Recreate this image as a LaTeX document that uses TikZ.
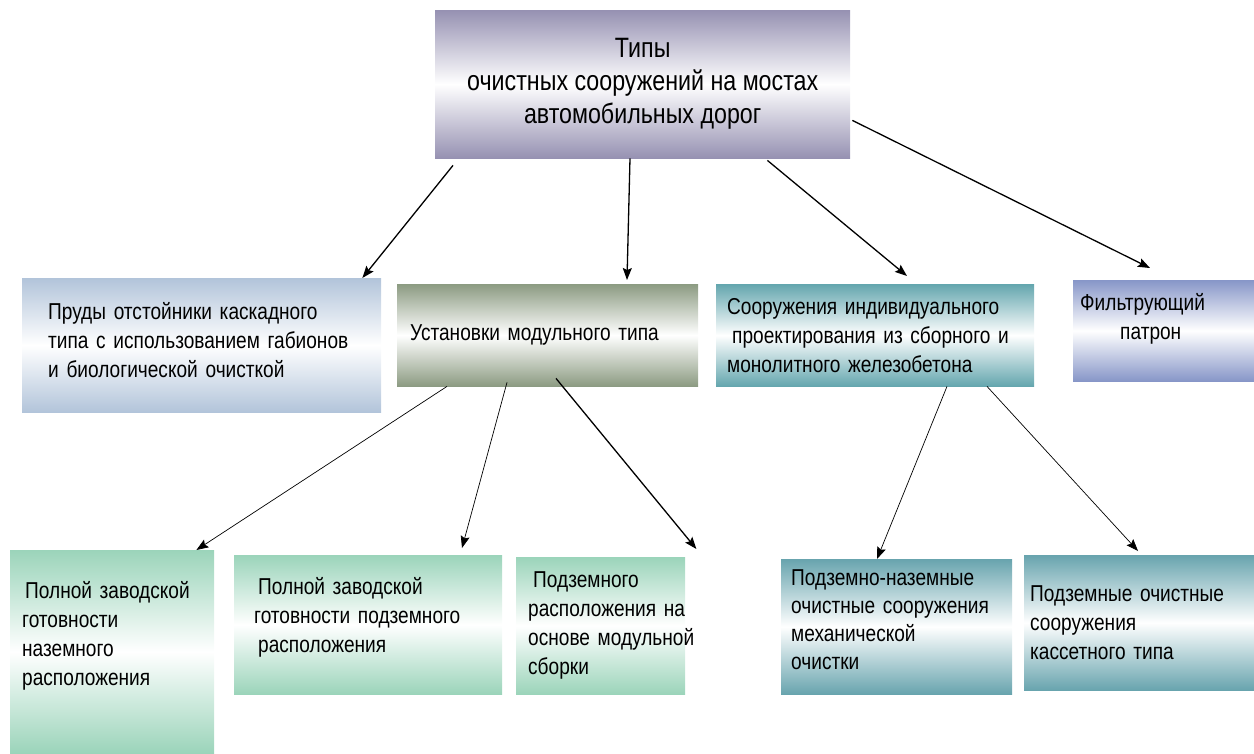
\documentclass[tikz,border=0pt]{standalone}
\usepackage{fontspec}
\setmainfont{Liberation Sans}[FakeStretch=0.83]
\usepackage{tikz}
\usetikzlibrary{positioning,arrows.meta}

\definecolor{titlec}{RGB}{150,145,178}
\definecolor{pondc}{RGB}{178,196,218}
\definecolor{modc}{RGB}{140,155,130}
\definecolor{indc}{RGB}{100,166,174}
\definecolor{filtc}{RGB}{135,150,200}
\definecolor{greenc}{RGB}{155,212,186}
\definecolor{tealc}{RGB}{104,164,174}

\tikzset{
  box/.style={anchor=north west, inner ysep=4pt, align=left,
    font=\fontsize{23}{29}\selectfont},
  grad/.style={top color=#1, bottom color=#1, middle color=white},
  link/.style={-{Stealth[length=12pt,width=9pt,inset=2pt]}, line width=1.3pt},
  thin link/.style={link, line width=0.7pt}
}

\begin{document}
\begin{tikzpicture}[x=1pt,y=-1pt]
  \useasboundingbox (0,0) rectangle (1254,753);
  \node[box, grad=titlec, align=center, minimum width=415pt, minimum height=148pt,
    font=\fontsize{28}{33}\selectfont] (types) at (435,10)
    {Типы\\ очистных сооружений на мостах\\ автомобильных дорог\\[-26pt] \mbox{}};

  \node[box, grad=pondc, text width=307pt, inner xsep=26pt, minimum height=134pt] (ponds) at (22,278)
    {Пруды~отстойники~каскадного\\ типа~с~использованием~габионов\\ и~биологической~очисткой\\[-19pt] \mbox{}};
  \node[box, grad=modc, text width=275pt, inner xsep=13pt, minimum height=102pt] (modul) at (397,284)
    {Установки модульного типа};
  \node[box, grad=indc, text width=296pt, inner xsep=11pt, minimum height=102pt] (indiv) at (716,284)
    {Сооружения~индивидуального\\ \hspace*{5pt}проектирования~из~сборного~и\\ монолитного~железобетона};
  \node[box, grad=filtc, text width=167pt, inner xsep=7pt, minimum height=101pt] (filter) at (1073,280)
    {Фильтрующий\\ \hspace*{40pt}патрон\\ \mbox{}};

  \node[box, grad=greenc, text width=180pt, inner xsep=12pt, minimum height=203pt] (mod1) at (10,550)
    {\hspace*{3pt}Полной~заводской\\ готовности\\ наземного\\ расположения\\[8pt] \mbox{}};
  \node[box, grad=greenc, text width=228pt, inner xsep=20pt, minimum height=139pt] (mod2) at (234,555)
    {\hspace*{4pt}Полной~заводской\\ готовности~подземного\\ \hspace*{4pt}расположения\\[-10pt] \mbox{}};
  \node[box, grad=greenc, text width=145pt, inner xsep=12pt, minimum height=137pt] (mod3) at (516,557)
    {\hspace*{5pt}Подземного\\ расположения~на\\ основе~модульной\\ сборки};
  \node[box, grad=tealc, text width=211pt, inner xsep=10pt, minimum height=135pt,
    font=\fontsize{23}{28}\selectfont] (ind1) at (781,559)
    {Подземно-наземные\\ очистные~сооружения\\ механической\\ очистки\\[-14pt] \mbox{}};
  \node[box, grad=tealc, text width=218pt, inner xsep=6pt, minimum height=135pt] (ind2) at (1024,555)
    {Подземные~очистные\\ сооружения\\ кассетного~типа};

  \draw[link] ([xshift=18pt,yshift=-7pt]types.south west) -- ([xshift=-19pt]ponds.north east);
  \draw[link] ([xshift=195pt]types.south west) -- ([xshift=230pt,yshift=4pt]modul.north west);
  \draw[link] ([xshift=-83pt,yshift=-2pt]types.south east) -- ([xshift=191pt,yshift=8pt]indiv.north west);
  \draw[link] ([xshift=2pt,yshift=38pt]types.south east) -- ([xshift=77pt,yshift=12pt]filter.north west);

  \draw[thin link] ([xshift=50pt]modul.south west) -- ([xshift=-18pt]mod1.north east);
  \draw[thin link] ([xshift=110pt,yshift=4pt]modul.south west) -- ([xshift=228pt,yshift=7pt]mod2.north west);
  \draw[link] ([xshift=159pt,yshift=8pt]modul.south west) -- ([xshift=11pt,yshift=8pt]mod3.north east);
  \draw[thin link] ([xshift=231pt]indiv.south west) -- ([xshift=96pt]ind1.north west);
  \draw[thin link] ([xshift=271pt]indiv.south west) -- ([xshift=114pt,yshift=4pt]ind2.north west);
\end{tikzpicture}
\end{document}
